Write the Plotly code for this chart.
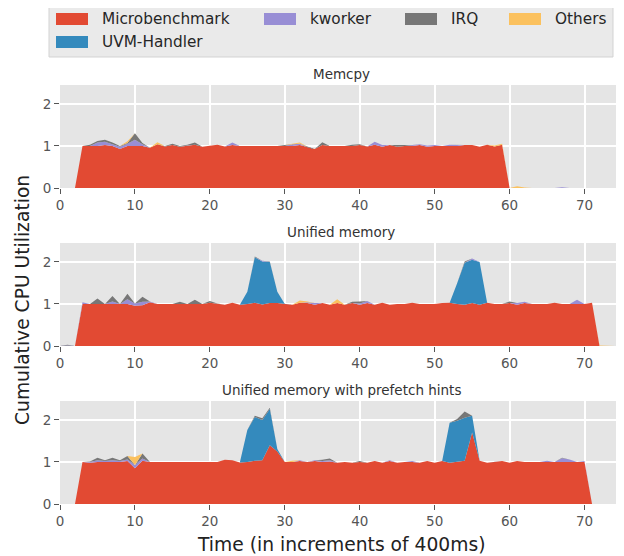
import plotly.graph_objects as go

# ---------------- data (time index 0..74) ----------------
TIME = list(range(75))
TICK_VALS = [0, 10, 20, 30, 40, 50, 60, 70]
Y_TICKS = [0, 1, 2]
SERIES_NAMES = ["Microbenchmark", "UVM-Handler", "kworker", "IRQ", "Others"]
COLORS = ["#E24A33", "#348ABD", "#988ED5", "#777777", "#FBC15E"]
TITLES = ["Memcpy", "Unified memory", "Unified memory with prefetch hints"]

# --- Memcpy ---
MEMCPY_MICRO = [
    0, 0, 0, 1.0, 1.0, 1.0, 1.02, 1.0, 0.93, 1.0, 1.0, 1.0, 0.96, 1.04, 0.99,
    1.02, 0.98, 1.01, 1.03, 0.98, 1.0, 1.03, 0.99, 1.02, 1.0, 1.0, 1.0, 1.0, 1.0, 1.0,
    1.0, 1.0, 1.02, 0.97, 0.93, 1.02, 1.0, 1.0, 1.0, 1.0, 1.02, 0.99, 1.03, 0.98, 1.02,
    0.98, 1.0, 1.0, 1.02, 0.98, 1.0, 1.0, 1.0, 1.0, 1.02, 1.02, 0.98, 1.03, 0.99, 1.03,
    0, 0, 0, 0, 0, 0, 0, 0, 0, 0, 0, 0, 0, 0, 0]
MEMCPY_UVM = [
    0, 0, 0, 0, 0, 0, 0, 0, 0, 0, 0, 0, 0, 0, 0,
    0, 0, 0, 0, 0, 0, 0, 0, 0, 0, 0, 0, 0, 0, 0,
    0, 0, 0, 0, 0, 0, 0, 0, 0, 0, 0, 0, 0, 0, 0,
    0, 0, 0, 0, 0, 0, 0, 0, 0, 0, 0, 0, 0, 0, 0,
    0, 0, 0, 0, 0, 0, 0, 0, 0, 0, 0, 0, 0, 0, 0]
MEMCPY_KWORKER = [
    0, 0, 0, 0, 0, 0.08, 0.08, 0.04, 0.05, 0.05, 0.15, 0.04, 0, 0, 0,
    0, 0, 0, 0, 0, 0, 0, 0, 0.06, 0, 0, 0, 0, 0, 0,
    0, 0.04, 0.03, 0, 0, 0, 0, 0, 0, 0, 0, 0, 0.07, 0.04, 0,
    0, 0, 0.02, 0.02, 0.03, 0.02, 0, 0.03, 0.02, 0, 0, 0, 0, 0, 0,
    0, 0, 0, 0, 0, 0, 0, 0.02, 0, 0, 0, 0, 0, 0, 0]
MEMCPY_IRQ = [
    0, 0, 0, 0, 0.03, 0.04, 0.05, 0.04, 0.02, 0.02, 0.15, 0.03, 0, 0, 0.01,
    0.03, 0.02, 0.02, 0.05, 0, 0, 0, 0, 0, 0, 0, 0, 0, 0, 0,
    0.02, 0, 0, 0.02, 0, 0.07, 0, 0, 0, 0.03, 0.02, 0, 0, 0, 0,
    0.03, 0.02, 0, 0, 0, 0, 0, 0, 0, 0, 0, 0, 0, 0, 0,
    0, 0, 0, 0, 0, 0, 0, 0, 0, 0, 0, 0, 0, 0, 0]
MEMCPY_OTHERS = [
    0, 0, 0, 0, 0, 0, 0, 0, 0, 0.04, 0, 0, 0, 0.05, 0,
    0, 0, 0, 0, 0, 0, 0, 0, 0, 0, 0, 0, 0, 0, 0,
    0, 0.01, 0.03, 0, 0, 0, 0, 0, 0, 0, 0, 0, 0, 0, 0,
    0, 0, 0, 0, 0, 0, 0, 0, 0, 0, 0, 0, 0, 0.02, 0.02,
    0, 0.04, 0.01, 0, 0, 0, 0, 0, 0, 0, 0, 0, 0, 0, 0]

# --- Unified memory ---
UM_MICRO = [
    0, 0, 0, 1.0, 1.0, 1.0, 1.0, 1.0, 1.0, 1.0, 0.96, 0.97, 1.04, 1.0, 1.0,
    1.0, 1.0, 1.0, 1.0, 1.0, 1.03, 1.01, 0.98, 1.03, 0.98, 1.0, 1.03, 0.99, 1.02, 1.02,
    1.0, 0.98, 1.03, 1.02, 0.98, 1.02, 0.98, 1.02, 0.98, 1.02, 0.98, 1.02, 0.98, 1.03, 0.98,
    1.0, 1.0, 1.03, 1.0, 1.0, 1.0, 1.02, 1.03, 1.0, 0.98, 1.02, 0.98, 1.03, 1.0, 1.0,
    1.02, 0.98, 1.02, 1.0, 1.0, 1.0, 1.03, 1.0, 1.0, 1.0, 1.0, 1.03, 0, 0, 0]
UM_UVM = [
    0, 0, 0, 0, 0, 0, 0, 0, 0, 0, 0, 0, 0, 0, 0,
    0, 0, 0, 0, 0, 0, 0, 0, 0, 0, 0.29, 1.08, 1.02, 0.98, 0.27,
    0, 0, 0, 0, 0, 0, 0, 0, 0, 0, 0, 0, 0, 0, 0,
    0, 0, 0, 0, 0, 0, 0, 0, 0.49, 1.0, 1.03, 1.02, 0, 0, 0,
    0, 0, 0, 0, 0, 0, 0, 0, 0, 0, 0, 0, 0, 0, 0]
UM_KWORKER = [
    0, 0.01, 0, 0.04, 0, 0, 0, 0.06, 0, 0.11, 0.05, 0.08, 0.02, 0, 0,
    0, 0, 0, 0, 0, 0, 0, 0, 0, 0, 0, 0, 0.02, 0, 0,
    0, 0, 0, 0.02, 0.04, 0, 0, 0, 0, 0, 0.03, 0.05, 0, 0, 0,
    0, 0, 0, 0, 0, 0, 0, 0, 0, 0, 0.03, 0, 0, 0, 0,
    0, 0.04, 0.03, 0, 0, 0, 0, 0, 0, 0.1, 0, 0, 0, 0, 0]
UM_IRQ = [
    0, 0.02, 0, 0, 0, 0.13, 0, 0.13, 0, 0.13, 0, 0.12, 0, 0, 0,
    0, 0.05, 0, 0.1, 0, 0.04, 0, 0, 0, 0, 0, 0.02, 0, 0.01, 0,
    0, 0, 0, 0, 0, 0, 0, 0, 0, 0.03, 0.05, 0, 0, 0, 0,
    0, 0, 0, 0, 0, 0, 0, 0, 0, 0.03, 0, 0, 0, 0, 0,
    0.04, 0, 0, 0, 0, 0, 0, 0, 0, 0, 0, 0, 0, 0, 0]
UM_OTHERS = [
    0, 0, 0, 0, 0, 0, 0, 0, 0, 0, 0, 0, 0, 0, 0,
    0, 0, 0, 0, 0, 0, 0, 0, 0, 0, 0, 0, 0, 0, 0,
    0, 0, 0.05, 0.02, 0, 0, 0, 0.09, 0, 0, 0, 0, 0, 0, 0,
    0, 0, 0, 0, 0, 0, 0, 0, 0, 0, 0, 0, 0, 0, 0,
    0, 0, 0, 0, 0, 0, 0, 0, 0, 0, 0, 0, 0.01, 0, 0]

# --- Unified memory with prefetch hints ---
PF_MICRO = [
    0, 0, 0, 1.0, 0.98, 1.0, 1.0, 1.0, 1.0, 1.02, 0.85, 1.03, 1.0, 1.0, 1.0,
    1.0, 1.0, 1.0, 1.0, 1.0, 1.0, 1.0, 1.05, 1.04, 0.99, 1.0, 1.03, 1.04, 1.4, 1.25,
    1.0, 1.0, 1.02, 1.0, 1.02, 1.0, 1.01, 0.98, 1.0, 0.98, 1.0, 0.98, 1.02, 0.98, 1.02,
    0.98, 1.0, 1.0, 0.98, 1.02, 0.98, 1.02, 0.98, 1.0, 1.03, 1.7, 1.03, 0.98, 1.0, 1.02,
    0.98, 1.02, 1.0, 1.0, 1.0, 1.0, 1.0, 1.0, 1.0, 1.0, 1.0, 0, 0, 0, 0]
PF_UVM = [
    0, 0, 0, 0, 0, 0, 0, 0, 0, 0, 0, 0, 0, 0, 0,
    0, 0, 0, 0, 0, 0, 0, 0, 0, 0, 0.76, 1.04, 0.96, 0.86, 0.06,
    0, 0, 0, 0, 0, 0, 0, 0, 0, 0, 0, 0, 0, 0, 0,
    0, 0, 0, 0, 0, 0, 0, 0.95, 0.98, 1.02, 0.4, 0, 0, 0, 0,
    0, 0, 0, 0, 0, 0, 0, 0, 0, 0, 0, 0, 0, 0, 0]
PF_KWORKER = [
    0, 0, 0, 0, 0.02, 0.04, 0.02, 0.04, 0.02, 0.04, 0.08, 0.05, 0, 0, 0,
    0, 0, 0, 0, 0, 0, 0, 0, 0, 0, 0, 0, 0, 0, 0,
    0, 0, 0.02, 0, 0.02, 0.02, 0.03, 0, 0, 0, 0, 0, 0, 0, 0.02,
    0, 0, 0.02, 0, 0, 0, 0, 0, 0, 0, 0, 0, 0, 0, 0,
    0, 0, 0, 0, 0, 0.03, 0, 0.09, 0.06, 0, 0.02, 0, 0, 0, 0]
PF_IRQ = [
    0, 0, 0, 0, 0.01, 0.06, 0.02, 0.06, 0.02, 0.08, 0, 0.12, 0, 0, 0,
    0, 0, 0, 0, 0, 0, 0, 0, 0, 0, 0, 0.03, 0.04, 0.03, 0,
    0, 0, 0, 0, 0, 0.03, 0.04, 0, 0, 0, 0.02, 0, 0, 0, 0,
    0, 0, 0, 0, 0, 0, 0, 0, 0.04, 0.15, 0, 0, 0, 0, 0,
    0, 0, 0, 0, 0, 0, 0, 0.01, 0, 0, 0, 0, 0, 0, 0]
PF_OTHERS = [
    0, 0, 0, 0, 0, 0, 0, 0, 0, 0, 0.19, 0, 0, 0, 0,
    0, 0, 0, 0, 0, 0, 0, 0, 0, 0, 0, 0, 0, 0, 0,
    0, 0.03, 0, 0, 0, 0, 0, 0, 0, 0, 0, 0, 0, 0, 0,
    0, 0, 0, 0, 0, 0, 0, 0, 0, 0, 0, 0, 0, 0, 0,
    0, 0, 0, 0, 0, 0, 0, 0, 0, 0, 0, 0, 0, 0, 0]

PANELS = [
    [MEMCPY_MICRO, MEMCPY_UVM, MEMCPY_KWORKER, MEMCPY_IRQ, MEMCPY_OTHERS],
    [UM_MICRO, UM_UVM, UM_KWORKER, UM_IRQ, UM_OTHERS],
    [PF_MICRO, PF_UVM, PF_KWORKER, PF_IRQ, PF_OTHERS],
]

# ---------------- layout geometry (page pixels) ----------------
OFF = 8                      # default page margin around the plot div
W, H = 624 - OFF, 556 - OFF  # figure size so it fills the window
ML, MR, MT, MB = 60 - OFF, 2, 85 - OFF, 52 - OFF
PW, PH = W - ML - MR, H - MT - MB
PANEL_TOPS = [85, 243, 401]  # in page pixels
PANEL_H = 103
FONT = "DejaVu Sans"


def px(x):
    """page pixel x -> paper coordinate"""
    return (x - OFF - ML) / PW


def py(y):
    """page pixel y -> paper coordinate"""
    return (H - MB - (y - OFF)) / PH


fig = go.Figure()
for i, panel in enumerate(PANELS):
    sfx = "" if i == 0 else str(i + 1)
    for name, vals, col in zip(SERIES_NAMES, panel, COLORS):
        fig.add_trace(go.Scatter(
            x=TIME, y=vals, name=name, mode="lines",
            stackgroup="g%d" % i, line=dict(width=0, color=col),
            fillcolor=col, showlegend=False,
            xaxis="x" + sfx, yaxis="y" + sfx))

layout = dict(
    width=W, height=H,
    margin=dict(l=ML, r=MR, t=MT, b=MB),
    paper_bgcolor="white", plot_bgcolor="#E5E5E5",
    font=dict(family=FONT, color="#555555"),
    showlegend=False,
)
for i in range(3):
    sfx = "" if i == 0 else str(i + 1)
    top = PANEL_TOPS[i]
    dom = [py(top + PANEL_H), py(top)]
    layout["xaxis" + sfx] = dict(
        domain=[0, 1], range=[0, 75], anchor="y" + sfx,
        tickvals=TICK_VALS, ticks="outside", ticklen=5, tickcolor="#555555",
        tickfont=dict(size=13.5, color="#555555", family=FONT),
        showgrid=True, gridcolor="white", gridwidth=1.5,
        zeroline=False, showline=False, fixedrange=True)
    layout["yaxis" + sfx] = dict(
        domain=dom, range=[0, 2.45], anchor="x" + sfx,
        tickvals=Y_TICKS, ticks="outside", ticklen=5, tickcolor="#555555",
        tickfont=dict(size=13.5, color="#555555", family=FONT),
        showgrid=True, gridcolor="white", gridwidth=1.5,
        zeroline=False, showline=False, fixedrange=True)
fig.update_layout(**layout)

annotations = []
for i, t in enumerate(TITLES):
    annotations.append(dict(
        text=t, xref="paper", yref="paper", x=0.5, y=py(PANEL_TOPS[i] - 11),
        xanchor="center", yanchor="middle", showarrow=False,
        font=dict(size=13.5, color="#333333", family=FONT)))
annotations.append(dict(
    text="Time (in increments of 400ms)", xref="paper", yref="paper",
    x=0.5, y=py(544), xanchor="center", yanchor="middle", showarrow=False,
    font=dict(size=18.7, color="#222222", family=FONT)))
annotations.append(dict(
    text="Cumulative CPU Utilization", xref="paper", yref="paper",
    x=px(22), y=py(300), xanchor="center", yanchor="middle", showarrow=False,
    textangle=-90, font=dict(size=18.7, color="#222222", family=FONT)))

# ---------------- legend (drawn like the matplotlib one) ----------------
shapes = [dict(type="rect", xref="paper", yref="paper",
               x0=px(49), x1=px(613), y0=py(57), y1=py(5),
               fillcolor="#EAEAEA", line=dict(color="#D3D3D3", width=1),
               layer="above")]
LEG_POS = {  # name: (patch left px, row center px)
    "Microbenchmark": (56, 19), "kworker": (264, 19), "IRQ": (405, 19),
    "Others": (509, 19), "UVM-Handler": (56, 42)}
for name, col in zip(SERIES_NAMES, COLORS):
    lx, cy = LEG_POS[name]
    shapes.append(dict(type="rect", xref="paper", yref="paper",
                       x0=px(lx), x1=px(lx + 32), y0=py(cy + 6), y1=py(cy - 6),
                       fillcolor=col, line=dict(width=0), layer="above"))
    annotations.append(dict(
        text=name, xref="paper", yref="paper", x=px(lx + 44), y=py(cy),
        xanchor="left", yanchor="middle", showarrow=False,
        font=dict(size=15.3, color="#262626", family=FONT)))

fig.update_layout(shapes=shapes, annotations=annotations)
fig.write_html("out.html")
